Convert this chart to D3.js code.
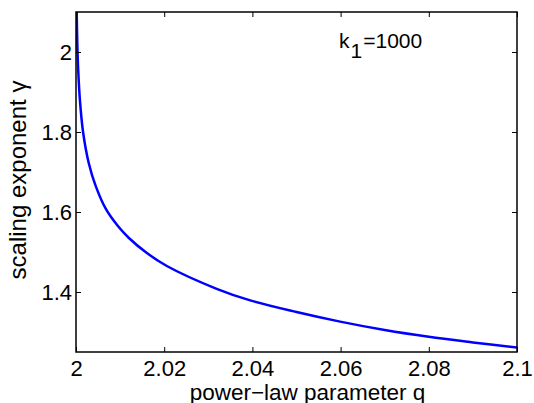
<!DOCTYPE html>
<html>
<head>
<meta charset="utf-8">
<script src="https://cdn.jsdelivr.net/npm/d3@7"></script>
<style>
  body { margin: 0; background: #fff; }
  text { font-family: "Liberation Sans", Arial, Helvetica, sans-serif; }
</style>
</head>
<body>
<div id="chart"></div>
<script>
// values
const qValues = [2.00016, 2.0003, 2.0005, 2.0009, 2.0016, 2.0029, 2.0045, 2.0068, 2.0095, 2.012, 2.016, 2.0206, 2.0319, 2.0395, 2.05, 2.0599, 2.07, 2.08, 2.09, 2.1];
const gammaValues = [2.1, 2.02, 1.955, 1.878, 1.80, 1.722, 1.664, 1.607, 1.565, 1.535, 1.498, 1.465, 1.408, 1.379, 1.35, 1.326, 1.305, 1.288, 1.274, 1.261];
const xTicks = [2, 2.02, 2.04, 2.06, 2.08, 2.1];
const yTicks = [1.4, 1.6, 1.8, 2];

const data = qValues.map((q, i) => ({ q: q, g: gammaValues[i] }));

const width = 534;
const height = 403;
const margin = { top: 12, right: 17, bottom: 51, left: 76 };

const svg = d3.select('#chart')
  .append('svg')
  .attr('width', width)
  .attr('height', height);

const x = d3.scaleLinear()
  .domain([2, 2.1])
  .range([margin.left, width - margin.right]);

const y = d3.scaleLinear()
  .domain([1.25, 2.1])
  .range([height - margin.bottom, margin.top]);

svg.append('clipPath')
  .attr('id', 'clip')
  .append('rect')
  .attr('x', margin.left)
  .attr('y', margin.top)
  .attr('width', x(2.1) - x(2))
  .attr('height', y(1.25) - y(2.1));

const line = d3.line()
  .x(d => x(d.q))
  .y(d => y(d.g))
  .curve(d3.curveCatmullRom.alpha(0.5));

svg.append('path')
  .datum(data)
  .attr('clip-path', 'url(#clip)')
  .attr('fill', 'none')
  .attr('stroke', '#0000ff')
  .attr('stroke-width', 2.5)
  .attr('d', line);

const fmt = d => d3.format('')(+d.toFixed(2));

function xAxis(g) {
  g.attr('transform', `translate(0,${height - margin.bottom})`)
    .call(d3.axisBottom(x).tickValues(xTicks).tickFormat(fmt).tickSizeInner(-5).tickSizeOuter(0).tickPadding(8))
    .attr('font-size', '22px');
}

function yAxis(g) {
  g.attr('transform', `translate(${margin.left},0)`)
    .call(d3.axisLeft(y).tickValues(yTicks).tickFormat(fmt).tickSizeInner(-5).tickSizeOuter(0).tickPadding(4))
    .attr('font-size', '22px');
}

function xTop(g) {
  g.attr('transform', `translate(0,${margin.top})`)
    .call(d3.axisTop(x).tickValues(xTicks).tickFormat('').tickSizeInner(-5).tickSizeOuter(0));
}

function yRight(g) {
  g.attr('transform', `translate(${width - margin.right},0)`)
    .call(d3.axisRight(y).tickValues(yTicks).tickFormat('').tickSizeInner(-5).tickSizeOuter(0));
}

svg.append('g').call(xAxis);
svg.append('g').call(yAxis);
svg.append('g').call(xTop);
svg.append('g').call(yRight);

svg.selectAll('.domain').remove();
svg.selectAll('.tick line').attr('stroke', '#000').attr('stroke-width', 1);
svg.selectAll('.tick text').attr('fill', '#000');

// box
svg.append('rect')
  .attr('x', x(2))
  .attr('y', y(2.1))
  .attr('width', x(2.1) - x(2))
  .attr('height', y(1.25) - y(2.1))
  .attr('fill', 'none')
  .attr('stroke', '#000')
  .attr('stroke-width', 1.5);

svg.append('text')
  .attr('x', (x(2) + x(2.1)) / 2 + 11)
  .attr('y', 400)
  .attr('text-anchor', 'middle')
  .attr('font-size', '22.5px')
  .text('power\u2212law parameter q');

svg.append('text')
  .attr('transform', `translate(26,180) rotate(-90)`)
  .attr('text-anchor', 'middle')
  .attr('font-size', '24px')
  .text('scaling exponent \u03b3');

const note = svg.append('text')
  .attr('x', 339)
  .attr('y', 48)
  .attr('font-size', '21px');
note.append('tspan').text('k');
note.append('tspan').attr('dy', 10).attr('dx', 1).text('1');
note.append('tspan').attr('dy', -10).attr('dx', 1).text('=1000');
</script>
</body>
</html>
